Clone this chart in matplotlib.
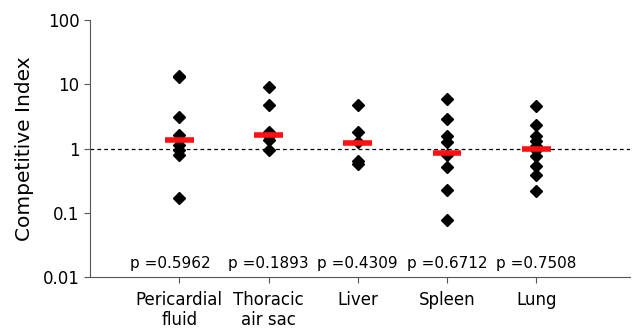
import numpy as np
import matplotlib.pyplot as plt
from matplotlib.ticker import FixedLocator, NullLocator

categories = ['Pericardial\nfluid', 'Thoracic\nair sac', 'Liver', 'Spleen', 'Lung']
values = [
    [13.5, 13.0, 3.1, 1.65, 1.15, 0.96, 0.8, 0.17],
    [9.1, 4.75, 1.8, 1.56, 1.38, 0.94],
    [4.7, 1.82, 1.25, 0.63, 0.58],
    [6.0, 2.87, 1.54, 1.25, 0.78, 0.52, 0.23, 0.078],
    [4.65, 2.3, 1.56, 1.33, 1.09, 0.96, 0.76, 0.53, 0.39, 0.22],
]
medians = [1.37, 1.6, 1.2, 0.84, 1.0]
pvals = ['p =0.5962', 'p =0.1893', 'p =0.4309', 'p =0.6712', 'p =0.7508']

fig = plt.figure(figsize=(6.36, 3.30), dpi=100)
ax = fig.add_axes([90/636, 53/330, 540/636, 257/330])

for i, vals in enumerate(values):
    x = i + 1
    ax.plot([x] * len(vals), vals, 'D', color='black', markersize=5.8, zorder=3)
    ax.plot([x - 0.16, x + 0.16], [medians[i], medians[i]], color='#ff1010',
            linewidth=4, solid_capstyle='butt', zorder=4)
    ax.text(x - (0.1 if i == 0 else 0), 0.0165, pvals[i], ha='center', va='center', fontsize=11)

ax.axhline(1, color='black', linestyle=(0, (3, 2.5)), linewidth=0.9, zorder=2)

ax.set_yscale('log')
ax.set_ylim(0.01, 100)
ax.set_xlim(0, 6.05)
ax.yaxis.set_major_locator(FixedLocator([0.01, 0.1, 1, 10, 100]))
ax.yaxis.set_minor_locator(NullLocator())
ax.set_yticklabels(['0.01', '0.1', '1', '10', '100'], fontsize=12)
ax.set_xticks(range(1, 6))
ax.set_xticklabels(categories, fontsize=12, linespacing=1.15)
ax.set_ylabel('Competitive Index', fontsize=14.5, labelpad=6)

for s in ['top', 'right']:
    ax.spines[s].set_visible(False)
for s in ['left', 'bottom']:
    ax.spines[s].set_color('#555555')
ax.tick_params(axis='both', color='#555555', length=4)
ax.tick_params(axis='x', pad=6)

fig.savefig('out.png', dpi=100)
